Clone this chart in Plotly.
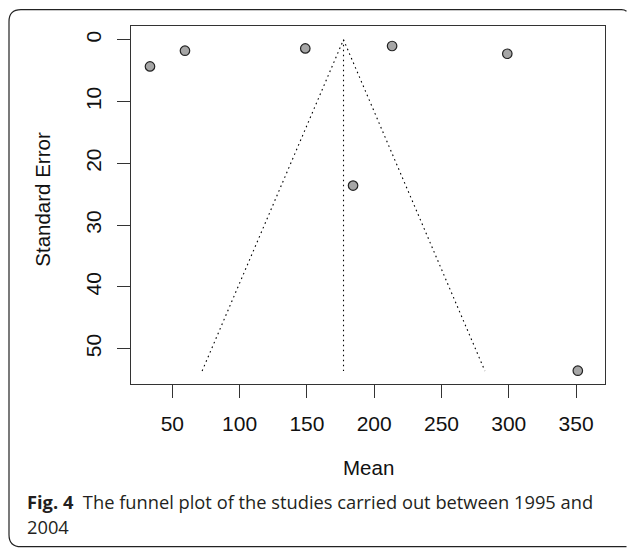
import plotly.graph_objects as go

# ---- data ----
study_mean = [33.4, 59.4, 148.8, 184.3, 213.3, 298.9, 351.3]
study_se = [4.32, 1.78, 1.41, 23.6, 1.02, 2.27, 53.56]
pooled_mean = 177.2
se_max = 53.6
x_ticks = [50, 100, 150, 200, 250, 300, 350]
y_ticks = [0, 10, 20, 30, 40, 50]
x_label = "Mean"
y_label = "Standard Error"
caption_bold = "Fig. 4"
caption_rest = "The funnel plot of the studies carried out between 1995 and"
caption_line2 = "2004"

# ---- layout geometry (pixels) ----
W, H = 627, 548
PX0, PX1, PY0, PY1 = 131, 605, 26.3, 384.3


def px_x(px):
    return (px - PX0) / (PX1 - PX0)


def px_y(py):
    return (PY1 - py) / (PY1 - PY0)


fig = go.Figure()

dot = "1.6px,3.4px"
# funnel (pseudo 95% limits)
fig.add_trace(go.Scatter(
    x=[pooled_mean - 1.96 * se_max, pooled_mean, pooled_mean + 1.96 * se_max],
    y=[se_max, 0, se_max],
    mode="lines", line=dict(color="black", width=1.1, dash=dot),
    hoverinfo="skip", showlegend=False))
fig.add_trace(go.Scatter(
    x=[pooled_mean, pooled_mean], y=[0, se_max],
    mode="lines", line=dict(color="black", width=1.1, dash=dot),
    hoverinfo="skip", showlegend=False))

# studies
fig.add_trace(go.Scatter(
    x=study_mean, y=study_se, mode="markers",
    marker=dict(size=9.5, color="#a6a6a6", line=dict(color="#222222", width=1.2)),
    showlegend=False))

axis_font = dict(family="Liberation Sans, Arial, sans-serif", size=21, color="#111111")

fig.update_xaxes(
    range=[19.3, 371.5], tickvals=x_ticks, ticktext=[str(v) for v in x_ticks],
    ticks="outside", ticklen=12.5, tickwidth=1.2, tickcolor="#333333",
    showline=True, linecolor="#333333", linewidth=1.3, mirror=True,
    showgrid=False, zeroline=False, tickfont=axis_font, ticklabelstandoff=8)
fig.update_yaxes(
    range=[55.71, -2.22], tickvals=y_ticks, ticktext=[str(v) for v in y_ticks],
    ticks="outside", ticklen=12.5, tickwidth=1.2, tickcolor="#333333",
    showline=True, linecolor="#333333", linewidth=1.3, mirror=True,
    showgrid=False, zeroline=False, tickfont=axis_font, tickangle=-90,
    ticklabelstandoff=8)

# rounded outer frame: left side, top and bottom; right side is cut off by the page edge
fx0, fy0, fx1, fy1, r = 9, 10, 626.5, 547, 12
path = (
    f"M {px_x(fx1)} {px_y(fy0 + 1.5)} "
    f"Q {px_x(fx1 - 2)} {px_y(fy0)} {px_x(fx1 - 5)} {px_y(fy0)} "
    f"L {px_x(fx0 + r)} {px_y(fy0)} "
    f"Q {px_x(fx0)} {px_y(fy0)} {px_x(fx0)} {px_y(fy0 + r)} "
    f"L {px_x(fx0)} {px_y(fy1 - r)} "
    f"Q {px_x(fx0)} {px_y(fy1)} {px_x(fx0 + r)} {px_y(fy1)} "
    f"L {px_x(fx1)} {px_y(fy1)}"
)
fig.add_shape(type="path", path=path, xref="paper", yref="paper",
              line=dict(color="#222222", width=1.2), layer="below")

cap_font = dict(family="Open Sans, Noto Sans, sans-serif", size=18.3, color="#231f20")

fig.update_layout(
    width=W, height=H, autosize=False,
    margin=dict(l=PX0, r=W - PX1, t=PY0, b=H - PY1, pad=0),
    paper_bgcolor="white", plot_bgcolor="white",
    annotations=[
        dict(text=y_label, x=px_x(43), y=px_y(200), xref="paper", yref="paper",
             textangle=-90, showarrow=False, xanchor="center", yanchor="middle",
             font=dict(family="Liberation Sans, Arial, sans-serif", size=20.5, color="#111111")),
        dict(text=x_label, x=px_x(368), y=px_y(468), xref="paper", yref="paper",
             showarrow=False, xanchor="center", yanchor="middle",
             font=dict(family="Liberation Sans, Arial, sans-serif", size=20.5, color="#111111")),
        dict(text=f"<b>{caption_bold}</b>  {caption_rest}", x=px_x(25), y=px_y(502),
             xref="paper", yref="paper", showarrow=False, xanchor="left", yanchor="middle",
             font=cap_font),
        dict(text=caption_line2, x=px_x(25), y=px_y(527),
             xref="paper", yref="paper", showarrow=False, xanchor="left", yanchor="middle",
             font=cap_font),
    ],
)

fig.write_html("out.html")
